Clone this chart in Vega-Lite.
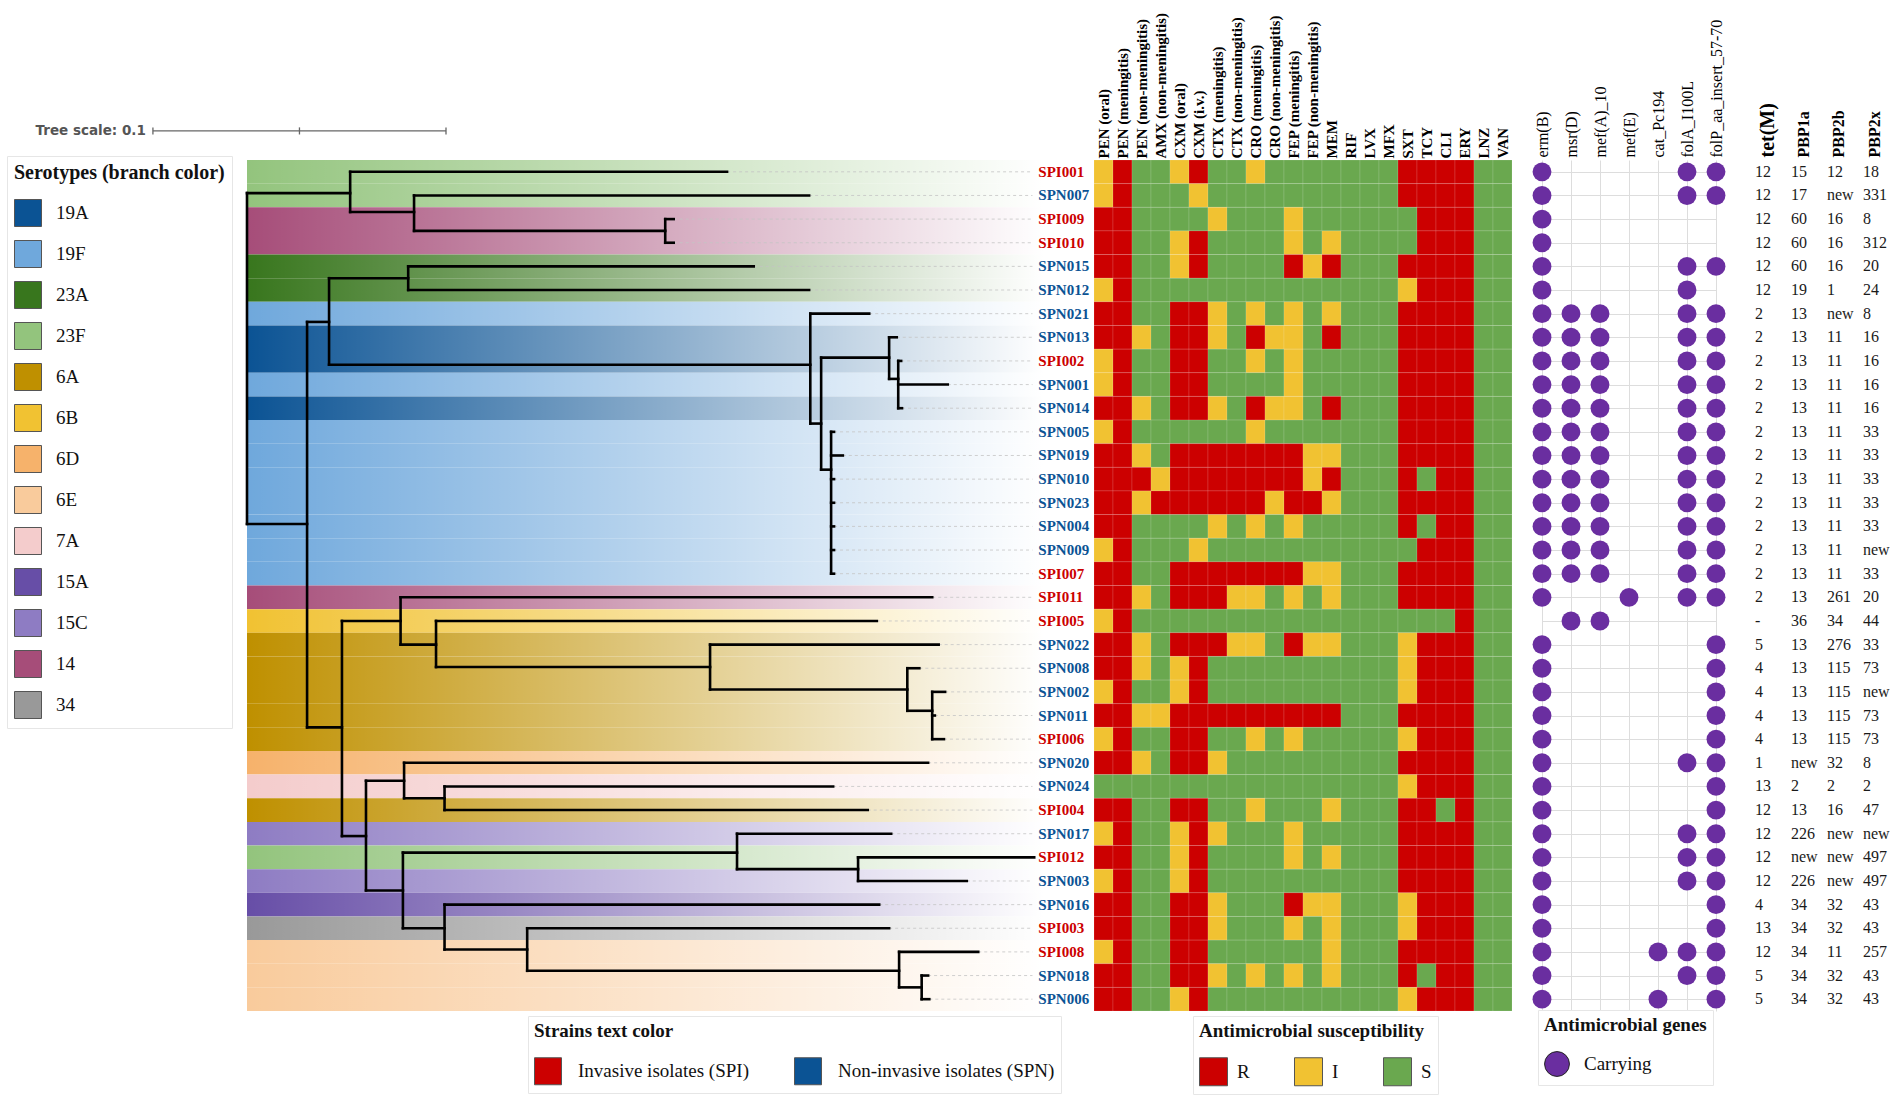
{
  "$schema": "https://vega.github.io/schema/vega-lite/v6.json",
  "background": "white",
  "padding": {"left": 6, "top": 12, "right": 2, "bottom": 2},
  "datasets": {
    "strains": [
      {"s":"SPI001","t":"Invasive isolates (SPI)","sero":"23F"},
      {"s":"SPN007","t":"Non-invasive isolates (SPN)","sero":"23F"},
      {"s":"SPI009","t":"Invasive isolates (SPI)","sero":"14"},
      {"s":"SPI010","t":"Invasive isolates (SPI)","sero":"14"},
      {"s":"SPN015","t":"Non-invasive isolates (SPN)","sero":"23A"},
      {"s":"SPN012","t":"Non-invasive isolates (SPN)","sero":"23A"},
      {"s":"SPN021","t":"Non-invasive isolates (SPN)","sero":"19F"},
      {"s":"SPN013","t":"Non-invasive isolates (SPN)","sero":"19A"},
      {"s":"SPI002","t":"Invasive isolates (SPI)","sero":"19A"},
      {"s":"SPN001","t":"Non-invasive isolates (SPN)","sero":"19F"},
      {"s":"SPN014","t":"Non-invasive isolates (SPN)","sero":"19A"},
      {"s":"SPN005","t":"Non-invasive isolates (SPN)","sero":"19F"},
      {"s":"SPN019","t":"Non-invasive isolates (SPN)","sero":"19F"},
      {"s":"SPN010","t":"Non-invasive isolates (SPN)","sero":"19F"},
      {"s":"SPN023","t":"Non-invasive isolates (SPN)","sero":"19F"},
      {"s":"SPN004","t":"Non-invasive isolates (SPN)","sero":"19F"},
      {"s":"SPN009","t":"Non-invasive isolates (SPN)","sero":"19F"},
      {"s":"SPI007","t":"Invasive isolates (SPI)","sero":"19F"},
      {"s":"SPI011","t":"Invasive isolates (SPI)","sero":"14"},
      {"s":"SPI005","t":"Invasive isolates (SPI)","sero":"6B"},
      {"s":"SPN022","t":"Non-invasive isolates (SPN)","sero":"6A"},
      {"s":"SPN008","t":"Non-invasive isolates (SPN)","sero":"6A"},
      {"s":"SPN002","t":"Non-invasive isolates (SPN)","sero":"6A"},
      {"s":"SPN011","t":"Non-invasive isolates (SPN)","sero":"6A"},
      {"s":"SPI006","t":"Invasive isolates (SPI)","sero":"6A"},
      {"s":"SPN020","t":"Non-invasive isolates (SPN)","sero":"6D"},
      {"s":"SPN024","t":"Non-invasive isolates (SPN)","sero":"7A"},
      {"s":"SPI004","t":"Invasive isolates (SPI)","sero":"6A"},
      {"s":"SPN017","t":"Non-invasive isolates (SPN)","sero":"15C"},
      {"s":"SPI012","t":"Invasive isolates (SPI)","sero":"23F"},
      {"s":"SPN003","t":"Non-invasive isolates (SPN)","sero":"15C"},
      {"s":"SPN016","t":"Non-invasive isolates (SPN)","sero":"15A"},
      {"s":"SPI003","t":"Invasive isolates (SPI)","sero":"34"},
      {"s":"SPI008","t":"Invasive isolates (SPI)","sero":"6E"},
      {"s":"SPN018","t":"Non-invasive isolates (SPN)","sero":"6E"},
      {"s":"SPN006","t":"Non-invasive isolates (SPN)","sero":"6E"}
    ],
    "tree": [
      {"x0":0,"x1":0,"y0":1.9,"y1":15.9},
      {"x0":0.0352,"x1":0.0352,"y0":1,"y1":2.7},
      {"x0":0.057,"x1":0.057,"y0":2,"y1":3.5},
      {"x0":0.1427,"x1":0.1427,"y0":3,"y1":4},
      {"x0":0.0205,"x1":0.0205,"y0":7.35,"y1":24.5},
      {"x0":0.028,"x1":0.028,"y0":5.5,"y1":9.16},
      {"x0":0.055,"x1":0.055,"y0":5,"y1":6},
      {"x0":0.1922,"x1":0.1922,"y0":7,"y1":11.65},
      {"x0":0.1959,"x1":0.1959,"y0":8.86,"y1":13.6},
      {"x0":0.2191,"x1":0.2191,"y0":8,"y1":9.76},
      {"x0":0.2222,"x1":0.2222,"y0":9,"y1":11},
      {"x0":0.1993,"x1":0.1993,"y0":12,"y1":18},
      {"x0":0.0324,"x1":0.0324,"y0":20,"y1":29.1},
      {"x0":0.0524,"x1":0.0524,"y0":19,"y1":21},
      {"x0":0.0645,"x1":0.0645,"y0":20,"y1":21.95},
      {"x0":0.158,"x1":0.158,"y0":21,"y1":22.9},
      {"x0":0.2253,"x1":0.2253,"y0":22,"y1":23.8},
      {"x0":0.2338,"x1":0.2338,"y0":23,"y1":25},
      {"x0":0.0406,"x1":0.0406,"y0":26.76,"y1":31.4},
      {"x0":0.0536,"x1":0.0536,"y0":26,"y1":27.5},
      {"x0":0.0674,"x1":0.0674,"y0":27,"y1":28},
      {"x0":0.0532,"x1":0.0532,"y0":29.8,"y1":33},
      {"x0":0.1672,"x1":0.1672,"y0":29,"y1":30.5},
      {"x0":0.2085,"x1":0.2085,"y0":30,"y1":31},
      {"x0":0.0674,"x1":0.0674,"y0":32,"y1":33.9},
      {"x0":0.0956,"x1":0.0956,"y0":33,"y1":34.8},
      {"x0":0.2225,"x1":0.2225,"y0":34,"y1":35.5},
      {"x0":0.2302,"x1":0.2302,"y0":35,"y1":36},
      {"x0":0,"x1":0.0352,"y0":1.9,"y1":1.9},
      {"x0":0.0352,"x1":0.057,"y0":2.7,"y1":2.7},
      {"x0":0.057,"x1":0.1427,"y0":3.5,"y1":3.5},
      {"x0":0,"x1":0.0205,"y0":15.9,"y1":15.9},
      {"x0":0.0205,"x1":0.028,"y0":7.35,"y1":7.35},
      {"x0":0.028,"x1":0.055,"y0":5.5,"y1":5.5},
      {"x0":0.028,"x1":0.1922,"y0":9.16,"y1":9.16},
      {"x0":0.1922,"x1":0.1959,"y0":11.65,"y1":11.65},
      {"x0":0.1959,"x1":0.2191,"y0":8.86,"y1":8.86},
      {"x0":0.2191,"x1":0.2222,"y0":9.76,"y1":9.76},
      {"x0":0.1959,"x1":0.1993,"y0":13.6,"y1":13.6},
      {"x0":0.0205,"x1":0.0324,"y0":24.5,"y1":24.5},
      {"x0":0.0324,"x1":0.0524,"y0":20,"y1":20},
      {"x0":0.0524,"x1":0.0645,"y0":21,"y1":21},
      {"x0":0.0645,"x1":0.158,"y0":21.95,"y1":21.95},
      {"x0":0.158,"x1":0.2253,"y0":22.9,"y1":22.9},
      {"x0":0.2253,"x1":0.2338,"y0":23.8,"y1":23.8},
      {"x0":0.0324,"x1":0.0406,"y0":29.1,"y1":29.1},
      {"x0":0.0406,"x1":0.0536,"y0":26.76,"y1":26.76},
      {"x0":0.0536,"x1":0.0674,"y0":27.5,"y1":27.5},
      {"x0":0.0406,"x1":0.0532,"y0":31.4,"y1":31.4},
      {"x0":0.0532,"x1":0.1672,"y0":29.8,"y1":29.8},
      {"x0":0.1672,"x1":0.2085,"y0":30.5,"y1":30.5},
      {"x0":0.0532,"x1":0.0674,"y0":33,"y1":33},
      {"x0":0.0674,"x1":0.0956,"y0":33.9,"y1":33.9},
      {"x0":0.0956,"x1":0.2225,"y0":34.8,"y1":34.8},
      {"x0":0.2225,"x1":0.2302,"y0":35.5,"y1":35.5},
      {"s":"SPI001","x0":0.0352,"x1":0.1638,"y0":1,"y1":1},
      {"s":"SPN007","x0":0.057,"x1":0.1918,"y0":2,"y1":2},
      {"s":"SPI009","x0":0.1427,"x1":0.1456,"y0":3,"y1":3},
      {"s":"SPI010","x0":0.1427,"x1":0.1456,"y0":4,"y1":4},
      {"s":"SPN015","x0":0.055,"x1":0.1729,"y0":5,"y1":5},
      {"s":"SPN012","x0":0.055,"x1":0.1918,"y0":6,"y1":6},
      {"s":"SPN021","x0":0.1922,"x1":0.2123,"y0":7,"y1":7},
      {"s":"SPN013","x0":0.2191,"x1":0.2217,"y0":8,"y1":8},
      {"s":"SPI002","x0":0.2222,"x1":0.2232,"y0":9,"y1":9},
      {"s":"SPN001","x0":0.2222,"x1":0.2391,"y0":10,"y1":10},
      {"s":"SPN014","x0":0.2222,"x1":0.2235,"y0":11,"y1":11},
      {"s":"SPN005","x0":0.1993,"x1":0.2003,"y0":12,"y1":12},
      {"s":"SPN019","x0":0.1993,"x1":0.2033,"y0":13,"y1":13},
      {"s":"SPN010","x0":0.1993,"x1":0.2003,"y0":14,"y1":14},
      {"s":"SPN023","x0":0.1993,"x1":0.2003,"y0":15,"y1":15},
      {"s":"SPN004","x0":0.1993,"x1":0.2003,"y0":16,"y1":16},
      {"s":"SPN009","x0":0.1993,"x1":0.2003,"y0":17,"y1":17},
      {"s":"SPI007","x0":0.1993,"x1":0.2003,"y0":18,"y1":18},
      {"s":"SPI011","x0":0.0524,"x1":0.2338,"y0":19,"y1":19},
      {"s":"SPI005","x0":0.0645,"x1":0.2149,"y0":20,"y1":20},
      {"s":"SPN022","x0":0.158,"x1":0.236,"y0":21,"y1":21},
      {"s":"SPN008","x0":0.2253,"x1":0.2294,"y0":22,"y1":22},
      {"s":"SPN002","x0":0.2338,"x1":0.2382,"y0":23,"y1":23},
      {"s":"SPN011","x0":0.2338,"x1":0.2347,"y0":24,"y1":24},
      {"s":"SPI006","x0":0.2338,"x1":0.2378,"y0":25,"y1":25},
      {"s":"SPN020","x0":0.0536,"x1":0.2324,"y0":26,"y1":26},
      {"s":"SPN024","x0":0.0674,"x1":0.2,"y0":27,"y1":27},
      {"s":"SPI004","x0":0.0674,"x1":0.2118,"y0":28,"y1":28},
      {"s":"SPN017","x0":0.1672,"x1":0.2198,"y0":29,"y1":29},
      {"s":"SPI012","x0":0.2085,"x1":0.2686,"y0":30,"y1":30},
      {"s":"SPN003","x0":0.2085,"x1":0.2456,"y0":31,"y1":31},
      {"s":"SPN016","x0":0.0674,"x1":0.2157,"y0":32,"y1":32},
      {"s":"SPI003","x0":0.0956,"x1":0.2191,"y0":33,"y1":33},
      {"s":"SPI008","x0":0.2225,"x1":0.2495,"y0":34,"y1":34},
      {"s":"SPN018","x0":0.2302,"x1":0.2324,"y0":35,"y1":35},
      {"s":"SPN006","x0":0.2302,"x1":0.2328,"y0":36,"y1":36}
    ],
    "scalebar": [{"x":-0.0321},{"x":0.0179},{"x":0.0679}],
    "ast": [
      {"s":"SPI001","d":"PEN (oral)","v":"I"},{"s":"SPI001","d":"PEN (meningitis)","v":"R"},{"s":"SPI001","d":"PEN (non-meningitis)","v":"S"},{"s":"SPI001","d":"AMX (non-meningitis)","v":"S"},{"s":"SPI001","d":"CXM (oral)","v":"I"},{"s":"SPI001","d":"CXM (i.v.)","v":"R"},{"s":"SPI001","d":"CTX (meningitis)","v":"S"},{"s":"SPI001","d":"CTX (non-meningitis)","v":"S"},{"s":"SPI001","d":"CRO (meningitis)","v":"I"},{"s":"SPI001","d":"CRO (non-meningitis)","v":"S"},{"s":"SPI001","d":"FEP (meningitis)","v":"S"},{"s":"SPI001","d":"FEP (non-meningitis)","v":"S"},{"s":"SPI001","d":"MEM","v":"S"},{"s":"SPI001","d":"RIF","v":"S"},{"s":"SPI001","d":"LVX","v":"S"},{"s":"SPI001","d":"MFX","v":"S"},{"s":"SPI001","d":"SXT","v":"R"},{"s":"SPI001","d":"TCY","v":"R"},{"s":"SPI001","d":"CLI","v":"R"},{"s":"SPI001","d":"ERY","v":"R"},{"s":"SPI001","d":"LNZ","v":"S"},{"s":"SPI001","d":"VAN","v":"S"},
      {"s":"SPN007","d":"PEN (oral)","v":"I"},{"s":"SPN007","d":"PEN (meningitis)","v":"R"},{"s":"SPN007","d":"PEN (non-meningitis)","v":"S"},{"s":"SPN007","d":"AMX (non-meningitis)","v":"S"},{"s":"SPN007","d":"CXM (oral)","v":"S"},{"s":"SPN007","d":"CXM (i.v.)","v":"I"},{"s":"SPN007","d":"CTX (meningitis)","v":"S"},{"s":"SPN007","d":"CTX (non-meningitis)","v":"S"},{"s":"SPN007","d":"CRO (meningitis)","v":"S"},{"s":"SPN007","d":"CRO (non-meningitis)","v":"S"},{"s":"SPN007","d":"FEP (meningitis)","v":"S"},{"s":"SPN007","d":"FEP (non-meningitis)","v":"S"},{"s":"SPN007","d":"MEM","v":"S"},{"s":"SPN007","d":"RIF","v":"S"},{"s":"SPN007","d":"LVX","v":"S"},{"s":"SPN007","d":"MFX","v":"S"},{"s":"SPN007","d":"SXT","v":"R"},{"s":"SPN007","d":"TCY","v":"R"},{"s":"SPN007","d":"CLI","v":"R"},{"s":"SPN007","d":"ERY","v":"R"},{"s":"SPN007","d":"LNZ","v":"S"},{"s":"SPN007","d":"VAN","v":"S"},
      {"s":"SPI009","d":"PEN (oral)","v":"R"},{"s":"SPI009","d":"PEN (meningitis)","v":"R"},{"s":"SPI009","d":"PEN (non-meningitis)","v":"S"},{"s":"SPI009","d":"AMX (non-meningitis)","v":"S"},{"s":"SPI009","d":"CXM (oral)","v":"S"},{"s":"SPI009","d":"CXM (i.v.)","v":"S"},{"s":"SPI009","d":"CTX (meningitis)","v":"I"},{"s":"SPI009","d":"CTX (non-meningitis)","v":"S"},{"s":"SPI009","d":"CRO (meningitis)","v":"S"},{"s":"SPI009","d":"CRO (non-meningitis)","v":"S"},{"s":"SPI009","d":"FEP (meningitis)","v":"I"},{"s":"SPI009","d":"FEP (non-meningitis)","v":"S"},{"s":"SPI009","d":"MEM","v":"S"},{"s":"SPI009","d":"RIF","v":"S"},{"s":"SPI009","d":"LVX","v":"S"},{"s":"SPI009","d":"MFX","v":"S"},{"s":"SPI009","d":"SXT","v":"S"},{"s":"SPI009","d":"TCY","v":"R"},{"s":"SPI009","d":"CLI","v":"R"},{"s":"SPI009","d":"ERY","v":"R"},{"s":"SPI009","d":"LNZ","v":"S"},{"s":"SPI009","d":"VAN","v":"S"},
      {"s":"SPI010","d":"PEN (oral)","v":"R"},{"s":"SPI010","d":"PEN (meningitis)","v":"R"},{"s":"SPI010","d":"PEN (non-meningitis)","v":"S"},{"s":"SPI010","d":"AMX (non-meningitis)","v":"S"},{"s":"SPI010","d":"CXM (oral)","v":"I"},{"s":"SPI010","d":"CXM (i.v.)","v":"R"},{"s":"SPI010","d":"CTX (meningitis)","v":"S"},{"s":"SPI010","d":"CTX (non-meningitis)","v":"S"},{"s":"SPI010","d":"CRO (meningitis)","v":"S"},{"s":"SPI010","d":"CRO (non-meningitis)","v":"S"},{"s":"SPI010","d":"FEP (meningitis)","v":"I"},{"s":"SPI010","d":"FEP (non-meningitis)","v":"S"},{"s":"SPI010","d":"MEM","v":"I"},{"s":"SPI010","d":"RIF","v":"S"},{"s":"SPI010","d":"LVX","v":"S"},{"s":"SPI010","d":"MFX","v":"S"},{"s":"SPI010","d":"SXT","v":"S"},{"s":"SPI010","d":"TCY","v":"R"},{"s":"SPI010","d":"CLI","v":"R"},{"s":"SPI010","d":"ERY","v":"R"},{"s":"SPI010","d":"LNZ","v":"S"},{"s":"SPI010","d":"VAN","v":"S"},
      {"s":"SPN015","d":"PEN (oral)","v":"R"},{"s":"SPN015","d":"PEN (meningitis)","v":"R"},{"s":"SPN015","d":"PEN (non-meningitis)","v":"S"},{"s":"SPN015","d":"AMX (non-meningitis)","v":"S"},{"s":"SPN015","d":"CXM (oral)","v":"I"},{"s":"SPN015","d":"CXM (i.v.)","v":"R"},{"s":"SPN015","d":"CTX (meningitis)","v":"S"},{"s":"SPN015","d":"CTX (non-meningitis)","v":"S"},{"s":"SPN015","d":"CRO (meningitis)","v":"S"},{"s":"SPN015","d":"CRO (non-meningitis)","v":"S"},{"s":"SPN015","d":"FEP (meningitis)","v":"R"},{"s":"SPN015","d":"FEP (non-meningitis)","v":"I"},{"s":"SPN015","d":"MEM","v":"R"},{"s":"SPN015","d":"RIF","v":"S"},{"s":"SPN015","d":"LVX","v":"S"},{"s":"SPN015","d":"MFX","v":"S"},{"s":"SPN015","d":"SXT","v":"R"},{"s":"SPN015","d":"TCY","v":"R"},{"s":"SPN015","d":"CLI","v":"R"},{"s":"SPN015","d":"ERY","v":"R"},{"s":"SPN015","d":"LNZ","v":"S"},{"s":"SPN015","d":"VAN","v":"S"},
      {"s":"SPN012","d":"PEN (oral)","v":"I"},{"s":"SPN012","d":"PEN (meningitis)","v":"R"},{"s":"SPN012","d":"PEN (non-meningitis)","v":"S"},{"s":"SPN012","d":"AMX (non-meningitis)","v":"S"},{"s":"SPN012","d":"CXM (oral)","v":"S"},{"s":"SPN012","d":"CXM (i.v.)","v":"S"},{"s":"SPN012","d":"CTX (meningitis)","v":"S"},{"s":"SPN012","d":"CTX (non-meningitis)","v":"S"},{"s":"SPN012","d":"CRO (meningitis)","v":"S"},{"s":"SPN012","d":"CRO (non-meningitis)","v":"S"},{"s":"SPN012","d":"FEP (meningitis)","v":"S"},{"s":"SPN012","d":"FEP (non-meningitis)","v":"S"},{"s":"SPN012","d":"MEM","v":"S"},{"s":"SPN012","d":"RIF","v":"S"},{"s":"SPN012","d":"LVX","v":"S"},{"s":"SPN012","d":"MFX","v":"S"},{"s":"SPN012","d":"SXT","v":"I"},{"s":"SPN012","d":"TCY","v":"R"},{"s":"SPN012","d":"CLI","v":"R"},{"s":"SPN012","d":"ERY","v":"R"},{"s":"SPN012","d":"LNZ","v":"S"},{"s":"SPN012","d":"VAN","v":"S"},
      {"s":"SPN021","d":"PEN (oral)","v":"R"},{"s":"SPN021","d":"PEN (meningitis)","v":"R"},{"s":"SPN021","d":"PEN (non-meningitis)","v":"S"},{"s":"SPN021","d":"AMX (non-meningitis)","v":"S"},{"s":"SPN021","d":"CXM (oral)","v":"R"},{"s":"SPN021","d":"CXM (i.v.)","v":"R"},{"s":"SPN021","d":"CTX (meningitis)","v":"I"},{"s":"SPN021","d":"CTX (non-meningitis)","v":"S"},{"s":"SPN021","d":"CRO (meningitis)","v":"I"},{"s":"SPN021","d":"CRO (non-meningitis)","v":"S"},{"s":"SPN021","d":"FEP (meningitis)","v":"I"},{"s":"SPN021","d":"FEP (non-meningitis)","v":"S"},{"s":"SPN021","d":"MEM","v":"I"},{"s":"SPN021","d":"RIF","v":"S"},{"s":"SPN021","d":"LVX","v":"S"},{"s":"SPN021","d":"MFX","v":"S"},{"s":"SPN021","d":"SXT","v":"R"},{"s":"SPN021","d":"TCY","v":"R"},{"s":"SPN021","d":"CLI","v":"R"},{"s":"SPN021","d":"ERY","v":"R"},{"s":"SPN021","d":"LNZ","v":"S"},{"s":"SPN021","d":"VAN","v":"S"},
      {"s":"SPN013","d":"PEN (oral)","v":"R"},{"s":"SPN013","d":"PEN (meningitis)","v":"R"},{"s":"SPN013","d":"PEN (non-meningitis)","v":"I"},{"s":"SPN013","d":"AMX (non-meningitis)","v":"S"},{"s":"SPN013","d":"CXM (oral)","v":"R"},{"s":"SPN013","d":"CXM (i.v.)","v":"R"},{"s":"SPN013","d":"CTX (meningitis)","v":"I"},{"s":"SPN013","d":"CTX (non-meningitis)","v":"S"},{"s":"SPN013","d":"CRO (meningitis)","v":"R"},{"s":"SPN013","d":"CRO (non-meningitis)","v":"I"},{"s":"SPN013","d":"FEP (meningitis)","v":"I"},{"s":"SPN013","d":"FEP (non-meningitis)","v":"S"},{"s":"SPN013","d":"MEM","v":"R"},{"s":"SPN013","d":"RIF","v":"S"},{"s":"SPN013","d":"LVX","v":"S"},{"s":"SPN013","d":"MFX","v":"S"},{"s":"SPN013","d":"SXT","v":"R"},{"s":"SPN013","d":"TCY","v":"R"},{"s":"SPN013","d":"CLI","v":"R"},{"s":"SPN013","d":"ERY","v":"R"},{"s":"SPN013","d":"LNZ","v":"S"},{"s":"SPN013","d":"VAN","v":"S"},
      {"s":"SPI002","d":"PEN (oral)","v":"I"},{"s":"SPI002","d":"PEN (meningitis)","v":"R"},{"s":"SPI002","d":"PEN (non-meningitis)","v":"S"},{"s":"SPI002","d":"AMX (non-meningitis)","v":"S"},{"s":"SPI002","d":"CXM (oral)","v":"R"},{"s":"SPI002","d":"CXM (i.v.)","v":"R"},{"s":"SPI002","d":"CTX (meningitis)","v":"S"},{"s":"SPI002","d":"CTX (non-meningitis)","v":"S"},{"s":"SPI002","d":"CRO (meningitis)","v":"I"},{"s":"SPI002","d":"CRO (non-meningitis)","v":"S"},{"s":"SPI002","d":"FEP (meningitis)","v":"I"},{"s":"SPI002","d":"FEP (non-meningitis)","v":"S"},{"s":"SPI002","d":"MEM","v":"S"},{"s":"SPI002","d":"RIF","v":"S"},{"s":"SPI002","d":"LVX","v":"S"},{"s":"SPI002","d":"MFX","v":"S"},{"s":"SPI002","d":"SXT","v":"R"},{"s":"SPI002","d":"TCY","v":"R"},{"s":"SPI002","d":"CLI","v":"R"},{"s":"SPI002","d":"ERY","v":"R"},{"s":"SPI002","d":"LNZ","v":"S"},{"s":"SPI002","d":"VAN","v":"S"},
      {"s":"SPN001","d":"PEN (oral)","v":"I"},{"s":"SPN001","d":"PEN (meningitis)","v":"R"},{"s":"SPN001","d":"PEN (non-meningitis)","v":"S"},{"s":"SPN001","d":"AMX (non-meningitis)","v":"S"},{"s":"SPN001","d":"CXM (oral)","v":"R"},{"s":"SPN001","d":"CXM (i.v.)","v":"R"},{"s":"SPN001","d":"CTX (meningitis)","v":"S"},{"s":"SPN001","d":"CTX (non-meningitis)","v":"S"},{"s":"SPN001","d":"CRO (meningitis)","v":"S"},{"s":"SPN001","d":"CRO (non-meningitis)","v":"S"},{"s":"SPN001","d":"FEP (meningitis)","v":"I"},{"s":"SPN001","d":"FEP (non-meningitis)","v":"S"},{"s":"SPN001","d":"MEM","v":"S"},{"s":"SPN001","d":"RIF","v":"S"},{"s":"SPN001","d":"LVX","v":"S"},{"s":"SPN001","d":"MFX","v":"S"},{"s":"SPN001","d":"SXT","v":"R"},{"s":"SPN001","d":"TCY","v":"R"},{"s":"SPN001","d":"CLI","v":"R"},{"s":"SPN001","d":"ERY","v":"R"},{"s":"SPN001","d":"LNZ","v":"S"},{"s":"SPN001","d":"VAN","v":"S"},
      {"s":"SPN014","d":"PEN (oral)","v":"R"},{"s":"SPN014","d":"PEN (meningitis)","v":"R"},{"s":"SPN014","d":"PEN (non-meningitis)","v":"I"},{"s":"SPN014","d":"AMX (non-meningitis)","v":"S"},{"s":"SPN014","d":"CXM (oral)","v":"R"},{"s":"SPN014","d":"CXM (i.v.)","v":"R"},{"s":"SPN014","d":"CTX (meningitis)","v":"I"},{"s":"SPN014","d":"CTX (non-meningitis)","v":"S"},{"s":"SPN014","d":"CRO (meningitis)","v":"R"},{"s":"SPN014","d":"CRO (non-meningitis)","v":"I"},{"s":"SPN014","d":"FEP (meningitis)","v":"I"},{"s":"SPN014","d":"FEP (non-meningitis)","v":"S"},{"s":"SPN014","d":"MEM","v":"R"},{"s":"SPN014","d":"RIF","v":"S"},{"s":"SPN014","d":"LVX","v":"S"},{"s":"SPN014","d":"MFX","v":"S"},{"s":"SPN014","d":"SXT","v":"R"},{"s":"SPN014","d":"TCY","v":"R"},{"s":"SPN014","d":"CLI","v":"R"},{"s":"SPN014","d":"ERY","v":"R"},{"s":"SPN014","d":"LNZ","v":"S"},{"s":"SPN014","d":"VAN","v":"S"},
      {"s":"SPN005","d":"PEN (oral)","v":"I"},{"s":"SPN005","d":"PEN (meningitis)","v":"R"},{"s":"SPN005","d":"PEN (non-meningitis)","v":"S"},{"s":"SPN005","d":"AMX (non-meningitis)","v":"S"},{"s":"SPN005","d":"CXM (oral)","v":"S"},{"s":"SPN005","d":"CXM (i.v.)","v":"S"},{"s":"SPN005","d":"CTX (meningitis)","v":"S"},{"s":"SPN005","d":"CTX (non-meningitis)","v":"S"},{"s":"SPN005","d":"CRO (meningitis)","v":"I"},{"s":"SPN005","d":"CRO (non-meningitis)","v":"S"},{"s":"SPN005","d":"FEP (meningitis)","v":"S"},{"s":"SPN005","d":"FEP (non-meningitis)","v":"S"},{"s":"SPN005","d":"MEM","v":"S"},{"s":"SPN005","d":"RIF","v":"S"},{"s":"SPN005","d":"LVX","v":"S"},{"s":"SPN005","d":"MFX","v":"S"},{"s":"SPN005","d":"SXT","v":"R"},{"s":"SPN005","d":"TCY","v":"R"},{"s":"SPN005","d":"CLI","v":"R"},{"s":"SPN005","d":"ERY","v":"R"},{"s":"SPN005","d":"LNZ","v":"S"},{"s":"SPN005","d":"VAN","v":"S"},
      {"s":"SPN019","d":"PEN (oral)","v":"R"},{"s":"SPN019","d":"PEN (meningitis)","v":"R"},{"s":"SPN019","d":"PEN (non-meningitis)","v":"I"},{"s":"SPN019","d":"AMX (non-meningitis)","v":"S"},{"s":"SPN019","d":"CXM (oral)","v":"R"},{"s":"SPN019","d":"CXM (i.v.)","v":"R"},{"s":"SPN019","d":"CTX (meningitis)","v":"R"},{"s":"SPN019","d":"CTX (non-meningitis)","v":"R"},{"s":"SPN019","d":"CRO (meningitis)","v":"R"},{"s":"SPN019","d":"CRO (non-meningitis)","v":"R"},{"s":"SPN019","d":"FEP (meningitis)","v":"R"},{"s":"SPN019","d":"FEP (non-meningitis)","v":"I"},{"s":"SPN019","d":"MEM","v":"I"},{"s":"SPN019","d":"RIF","v":"S"},{"s":"SPN019","d":"LVX","v":"S"},{"s":"SPN019","d":"MFX","v":"S"},{"s":"SPN019","d":"SXT","v":"R"},{"s":"SPN019","d":"TCY","v":"R"},{"s":"SPN019","d":"CLI","v":"R"},{"s":"SPN019","d":"ERY","v":"R"},{"s":"SPN019","d":"LNZ","v":"S"},{"s":"SPN019","d":"VAN","v":"S"},
      {"s":"SPN010","d":"PEN (oral)","v":"R"},{"s":"SPN010","d":"PEN (meningitis)","v":"R"},{"s":"SPN010","d":"PEN (non-meningitis)","v":"R"},{"s":"SPN010","d":"AMX (non-meningitis)","v":"I"},{"s":"SPN010","d":"CXM (oral)","v":"R"},{"s":"SPN010","d":"CXM (i.v.)","v":"R"},{"s":"SPN010","d":"CTX (meningitis)","v":"R"},{"s":"SPN010","d":"CTX (non-meningitis)","v":"R"},{"s":"SPN010","d":"CRO (meningitis)","v":"R"},{"s":"SPN010","d":"CRO (non-meningitis)","v":"R"},{"s":"SPN010","d":"FEP (meningitis)","v":"R"},{"s":"SPN010","d":"FEP (non-meningitis)","v":"I"},{"s":"SPN010","d":"MEM","v":"R"},{"s":"SPN010","d":"RIF","v":"S"},{"s":"SPN010","d":"LVX","v":"S"},{"s":"SPN010","d":"MFX","v":"S"},{"s":"SPN010","d":"SXT","v":"R"},{"s":"SPN010","d":"TCY","v":"S"},{"s":"SPN010","d":"CLI","v":"R"},{"s":"SPN010","d":"ERY","v":"R"},{"s":"SPN010","d":"LNZ","v":"S"},{"s":"SPN010","d":"VAN","v":"S"},
      {"s":"SPN023","d":"PEN (oral)","v":"R"},{"s":"SPN023","d":"PEN (meningitis)","v":"R"},{"s":"SPN023","d":"PEN (non-meningitis)","v":"I"},{"s":"SPN023","d":"AMX (non-meningitis)","v":"R"},{"s":"SPN023","d":"CXM (oral)","v":"R"},{"s":"SPN023","d":"CXM (i.v.)","v":"R"},{"s":"SPN023","d":"CTX (meningitis)","v":"R"},{"s":"SPN023","d":"CTX (non-meningitis)","v":"R"},{"s":"SPN023","d":"CRO (meningitis)","v":"R"},{"s":"SPN023","d":"CRO (non-meningitis)","v":"I"},{"s":"SPN023","d":"FEP (meningitis)","v":"R"},{"s":"SPN023","d":"FEP (non-meningitis)","v":"R"},{"s":"SPN023","d":"MEM","v":"I"},{"s":"SPN023","d":"RIF","v":"S"},{"s":"SPN023","d":"LVX","v":"S"},{"s":"SPN023","d":"MFX","v":"S"},{"s":"SPN023","d":"SXT","v":"R"},{"s":"SPN023","d":"TCY","v":"R"},{"s":"SPN023","d":"CLI","v":"R"},{"s":"SPN023","d":"ERY","v":"R"},{"s":"SPN023","d":"LNZ","v":"S"},{"s":"SPN023","d":"VAN","v":"S"},
      {"s":"SPN004","d":"PEN (oral)","v":"R"},{"s":"SPN004","d":"PEN (meningitis)","v":"R"},{"s":"SPN004","d":"PEN (non-meningitis)","v":"S"},{"s":"SPN004","d":"AMX (non-meningitis)","v":"S"},{"s":"SPN004","d":"CXM (oral)","v":"S"},{"s":"SPN004","d":"CXM (i.v.)","v":"S"},{"s":"SPN004","d":"CTX (meningitis)","v":"I"},{"s":"SPN004","d":"CTX (non-meningitis)","v":"S"},{"s":"SPN004","d":"CRO (meningitis)","v":"I"},{"s":"SPN004","d":"CRO (non-meningitis)","v":"S"},{"s":"SPN004","d":"FEP (meningitis)","v":"I"},{"s":"SPN004","d":"FEP (non-meningitis)","v":"S"},{"s":"SPN004","d":"MEM","v":"S"},{"s":"SPN004","d":"RIF","v":"S"},{"s":"SPN004","d":"LVX","v":"S"},{"s":"SPN004","d":"MFX","v":"S"},{"s":"SPN004","d":"SXT","v":"R"},{"s":"SPN004","d":"TCY","v":"S"},{"s":"SPN004","d":"CLI","v":"R"},{"s":"SPN004","d":"ERY","v":"R"},{"s":"SPN004","d":"LNZ","v":"S"},{"s":"SPN004","d":"VAN","v":"S"},
      {"s":"SPN009","d":"PEN (oral)","v":"I"},{"s":"SPN009","d":"PEN (meningitis)","v":"R"},{"s":"SPN009","d":"PEN (non-meningitis)","v":"S"},{"s":"SPN009","d":"AMX (non-meningitis)","v":"S"},{"s":"SPN009","d":"CXM (oral)","v":"S"},{"s":"SPN009","d":"CXM (i.v.)","v":"I"},{"s":"SPN009","d":"CTX (meningitis)","v":"S"},{"s":"SPN009","d":"CTX (non-meningitis)","v":"S"},{"s":"SPN009","d":"CRO (meningitis)","v":"S"},{"s":"SPN009","d":"CRO (non-meningitis)","v":"S"},{"s":"SPN009","d":"FEP (meningitis)","v":"S"},{"s":"SPN009","d":"FEP (non-meningitis)","v":"S"},{"s":"SPN009","d":"MEM","v":"S"},{"s":"SPN009","d":"RIF","v":"S"},{"s":"SPN009","d":"LVX","v":"S"},{"s":"SPN009","d":"MFX","v":"S"},{"s":"SPN009","d":"SXT","v":"S"},{"s":"SPN009","d":"TCY","v":"R"},{"s":"SPN009","d":"CLI","v":"R"},{"s":"SPN009","d":"ERY","v":"R"},{"s":"SPN009","d":"LNZ","v":"S"},{"s":"SPN009","d":"VAN","v":"S"},
      {"s":"SPI007","d":"PEN (oral)","v":"R"},{"s":"SPI007","d":"PEN (meningitis)","v":"R"},{"s":"SPI007","d":"PEN (non-meningitis)","v":"S"},{"s":"SPI007","d":"AMX (non-meningitis)","v":"S"},{"s":"SPI007","d":"CXM (oral)","v":"R"},{"s":"SPI007","d":"CXM (i.v.)","v":"R"},{"s":"SPI007","d":"CTX (meningitis)","v":"R"},{"s":"SPI007","d":"CTX (non-meningitis)","v":"R"},{"s":"SPI007","d":"CRO (meningitis)","v":"R"},{"s":"SPI007","d":"CRO (non-meningitis)","v":"R"},{"s":"SPI007","d":"FEP (meningitis)","v":"R"},{"s":"SPI007","d":"FEP (non-meningitis)","v":"I"},{"s":"SPI007","d":"MEM","v":"I"},{"s":"SPI007","d":"RIF","v":"S"},{"s":"SPI007","d":"LVX","v":"S"},{"s":"SPI007","d":"MFX","v":"S"},{"s":"SPI007","d":"SXT","v":"R"},{"s":"SPI007","d":"TCY","v":"R"},{"s":"SPI007","d":"CLI","v":"R"},{"s":"SPI007","d":"ERY","v":"R"},{"s":"SPI007","d":"LNZ","v":"S"},{"s":"SPI007","d":"VAN","v":"S"},
      {"s":"SPI011","d":"PEN (oral)","v":"R"},{"s":"SPI011","d":"PEN (meningitis)","v":"R"},{"s":"SPI011","d":"PEN (non-meningitis)","v":"I"},{"s":"SPI011","d":"AMX (non-meningitis)","v":"S"},{"s":"SPI011","d":"CXM (oral)","v":"R"},{"s":"SPI011","d":"CXM (i.v.)","v":"R"},{"s":"SPI011","d":"CTX (meningitis)","v":"R"},{"s":"SPI011","d":"CTX (non-meningitis)","v":"I"},{"s":"SPI011","d":"CRO (meningitis)","v":"I"},{"s":"SPI011","d":"CRO (non-meningitis)","v":"S"},{"s":"SPI011","d":"FEP (meningitis)","v":"I"},{"s":"SPI011","d":"FEP (non-meningitis)","v":"S"},{"s":"SPI011","d":"MEM","v":"I"},{"s":"SPI011","d":"RIF","v":"S"},{"s":"SPI011","d":"LVX","v":"S"},{"s":"SPI011","d":"MFX","v":"S"},{"s":"SPI011","d":"SXT","v":"R"},{"s":"SPI011","d":"TCY","v":"R"},{"s":"SPI011","d":"CLI","v":"R"},{"s":"SPI011","d":"ERY","v":"R"},{"s":"SPI011","d":"LNZ","v":"S"},{"s":"SPI011","d":"VAN","v":"S"},
      {"s":"SPI005","d":"PEN (oral)","v":"I"},{"s":"SPI005","d":"PEN (meningitis)","v":"R"},{"s":"SPI005","d":"PEN (non-meningitis)","v":"S"},{"s":"SPI005","d":"AMX (non-meningitis)","v":"S"},{"s":"SPI005","d":"CXM (oral)","v":"S"},{"s":"SPI005","d":"CXM (i.v.)","v":"S"},{"s":"SPI005","d":"CTX (meningitis)","v":"S"},{"s":"SPI005","d":"CTX (non-meningitis)","v":"S"},{"s":"SPI005","d":"CRO (meningitis)","v":"S"},{"s":"SPI005","d":"CRO (non-meningitis)","v":"S"},{"s":"SPI005","d":"FEP (meningitis)","v":"S"},{"s":"SPI005","d":"FEP (non-meningitis)","v":"S"},{"s":"SPI005","d":"MEM","v":"S"},{"s":"SPI005","d":"RIF","v":"S"},{"s":"SPI005","d":"LVX","v":"S"},{"s":"SPI005","d":"MFX","v":"S"},{"s":"SPI005","d":"SXT","v":"S"},{"s":"SPI005","d":"TCY","v":"S"},{"s":"SPI005","d":"CLI","v":"S"},{"s":"SPI005","d":"ERY","v":"R"},{"s":"SPI005","d":"LNZ","v":"S"},{"s":"SPI005","d":"VAN","v":"S"},
      {"s":"SPN022","d":"PEN (oral)","v":"R"},{"s":"SPN022","d":"PEN (meningitis)","v":"R"},{"s":"SPN022","d":"PEN (non-meningitis)","v":"I"},{"s":"SPN022","d":"AMX (non-meningitis)","v":"S"},{"s":"SPN022","d":"CXM (oral)","v":"R"},{"s":"SPN022","d":"CXM (i.v.)","v":"R"},{"s":"SPN022","d":"CTX (meningitis)","v":"R"},{"s":"SPN022","d":"CTX (non-meningitis)","v":"I"},{"s":"SPN022","d":"CRO (meningitis)","v":"I"},{"s":"SPN022","d":"CRO (non-meningitis)","v":"S"},{"s":"SPN022","d":"FEP (meningitis)","v":"R"},{"s":"SPN022","d":"FEP (non-meningitis)","v":"I"},{"s":"SPN022","d":"MEM","v":"I"},{"s":"SPN022","d":"RIF","v":"S"},{"s":"SPN022","d":"LVX","v":"S"},{"s":"SPN022","d":"MFX","v":"S"},{"s":"SPN022","d":"SXT","v":"I"},{"s":"SPN022","d":"TCY","v":"R"},{"s":"SPN022","d":"CLI","v":"R"},{"s":"SPN022","d":"ERY","v":"R"},{"s":"SPN022","d":"LNZ","v":"S"},{"s":"SPN022","d":"VAN","v":"S"},
      {"s":"SPN008","d":"PEN (oral)","v":"R"},{"s":"SPN008","d":"PEN (meningitis)","v":"R"},{"s":"SPN008","d":"PEN (non-meningitis)","v":"I"},{"s":"SPN008","d":"AMX (non-meningitis)","v":"S"},{"s":"SPN008","d":"CXM (oral)","v":"I"},{"s":"SPN008","d":"CXM (i.v.)","v":"R"},{"s":"SPN008","d":"CTX (meningitis)","v":"S"},{"s":"SPN008","d":"CTX (non-meningitis)","v":"S"},{"s":"SPN008","d":"CRO (meningitis)","v":"S"},{"s":"SPN008","d":"CRO (non-meningitis)","v":"S"},{"s":"SPN008","d":"FEP (meningitis)","v":"S"},{"s":"SPN008","d":"FEP (non-meningitis)","v":"S"},{"s":"SPN008","d":"MEM","v":"S"},{"s":"SPN008","d":"RIF","v":"S"},{"s":"SPN008","d":"LVX","v":"S"},{"s":"SPN008","d":"MFX","v":"S"},{"s":"SPN008","d":"SXT","v":"I"},{"s":"SPN008","d":"TCY","v":"R"},{"s":"SPN008","d":"CLI","v":"R"},{"s":"SPN008","d":"ERY","v":"R"},{"s":"SPN008","d":"LNZ","v":"S"},{"s":"SPN008","d":"VAN","v":"S"},
      {"s":"SPN002","d":"PEN (oral)","v":"I"},{"s":"SPN002","d":"PEN (meningitis)","v":"R"},{"s":"SPN002","d":"PEN (non-meningitis)","v":"S"},{"s":"SPN002","d":"AMX (non-meningitis)","v":"S"},{"s":"SPN002","d":"CXM (oral)","v":"I"},{"s":"SPN002","d":"CXM (i.v.)","v":"R"},{"s":"SPN002","d":"CTX (meningitis)","v":"S"},{"s":"SPN002","d":"CTX (non-meningitis)","v":"S"},{"s":"SPN002","d":"CRO (meningitis)","v":"S"},{"s":"SPN002","d":"CRO (non-meningitis)","v":"S"},{"s":"SPN002","d":"FEP (meningitis)","v":"S"},{"s":"SPN002","d":"FEP (non-meningitis)","v":"S"},{"s":"SPN002","d":"MEM","v":"S"},{"s":"SPN002","d":"RIF","v":"S"},{"s":"SPN002","d":"LVX","v":"S"},{"s":"SPN002","d":"MFX","v":"S"},{"s":"SPN002","d":"SXT","v":"I"},{"s":"SPN002","d":"TCY","v":"R"},{"s":"SPN002","d":"CLI","v":"R"},{"s":"SPN002","d":"ERY","v":"R"},{"s":"SPN002","d":"LNZ","v":"S"},{"s":"SPN002","d":"VAN","v":"S"},
      {"s":"SPN011","d":"PEN (oral)","v":"R"},{"s":"SPN011","d":"PEN (meningitis)","v":"R"},{"s":"SPN011","d":"PEN (non-meningitis)","v":"I"},{"s":"SPN011","d":"AMX (non-meningitis)","v":"I"},{"s":"SPN011","d":"CXM (oral)","v":"R"},{"s":"SPN011","d":"CXM (i.v.)","v":"R"},{"s":"SPN011","d":"CTX (meningitis)","v":"R"},{"s":"SPN011","d":"CTX (non-meningitis)","v":"R"},{"s":"SPN011","d":"CRO (meningitis)","v":"R"},{"s":"SPN011","d":"CRO (non-meningitis)","v":"R"},{"s":"SPN011","d":"FEP (meningitis)","v":"R"},{"s":"SPN011","d":"FEP (non-meningitis)","v":"R"},{"s":"SPN011","d":"MEM","v":"R"},{"s":"SPN011","d":"RIF","v":"S"},{"s":"SPN011","d":"LVX","v":"S"},{"s":"SPN011","d":"MFX","v":"S"},{"s":"SPN011","d":"SXT","v":"R"},{"s":"SPN011","d":"TCY","v":"R"},{"s":"SPN011","d":"CLI","v":"R"},{"s":"SPN011","d":"ERY","v":"R"},{"s":"SPN011","d":"LNZ","v":"S"},{"s":"SPN011","d":"VAN","v":"S"},
      {"s":"SPI006","d":"PEN (oral)","v":"I"},{"s":"SPI006","d":"PEN (meningitis)","v":"R"},{"s":"SPI006","d":"PEN (non-meningitis)","v":"S"},{"s":"SPI006","d":"AMX (non-meningitis)","v":"S"},{"s":"SPI006","d":"CXM (oral)","v":"R"},{"s":"SPI006","d":"CXM (i.v.)","v":"R"},{"s":"SPI006","d":"CTX (meningitis)","v":"S"},{"s":"SPI006","d":"CTX (non-meningitis)","v":"S"},{"s":"SPI006","d":"CRO (meningitis)","v":"I"},{"s":"SPI006","d":"CRO (non-meningitis)","v":"S"},{"s":"SPI006","d":"FEP (meningitis)","v":"I"},{"s":"SPI006","d":"FEP (non-meningitis)","v":"S"},{"s":"SPI006","d":"MEM","v":"S"},{"s":"SPI006","d":"RIF","v":"S"},{"s":"SPI006","d":"LVX","v":"S"},{"s":"SPI006","d":"MFX","v":"S"},{"s":"SPI006","d":"SXT","v":"I"},{"s":"SPI006","d":"TCY","v":"R"},{"s":"SPI006","d":"CLI","v":"R"},{"s":"SPI006","d":"ERY","v":"R"},{"s":"SPI006","d":"LNZ","v":"S"},{"s":"SPI006","d":"VAN","v":"S"},
      {"s":"SPN020","d":"PEN (oral)","v":"R"},{"s":"SPN020","d":"PEN (meningitis)","v":"R"},{"s":"SPN020","d":"PEN (non-meningitis)","v":"I"},{"s":"SPN020","d":"AMX (non-meningitis)","v":"S"},{"s":"SPN020","d":"CXM (oral)","v":"R"},{"s":"SPN020","d":"CXM (i.v.)","v":"R"},{"s":"SPN020","d":"CTX (meningitis)","v":"I"},{"s":"SPN020","d":"CTX (non-meningitis)","v":"S"},{"s":"SPN020","d":"CRO (meningitis)","v":"S"},{"s":"SPN020","d":"CRO (non-meningitis)","v":"S"},{"s":"SPN020","d":"FEP (meningitis)","v":"S"},{"s":"SPN020","d":"FEP (non-meningitis)","v":"S"},{"s":"SPN020","d":"MEM","v":"S"},{"s":"SPN020","d":"RIF","v":"S"},{"s":"SPN020","d":"LVX","v":"S"},{"s":"SPN020","d":"MFX","v":"S"},{"s":"SPN020","d":"SXT","v":"R"},{"s":"SPN020","d":"TCY","v":"R"},{"s":"SPN020","d":"CLI","v":"R"},{"s":"SPN020","d":"ERY","v":"R"},{"s":"SPN020","d":"LNZ","v":"S"},{"s":"SPN020","d":"VAN","v":"S"},
      {"s":"SPN024","d":"PEN (oral)","v":"S"},{"s":"SPN024","d":"PEN (meningitis)","v":"S"},{"s":"SPN024","d":"PEN (non-meningitis)","v":"S"},{"s":"SPN024","d":"AMX (non-meningitis)","v":"S"},{"s":"SPN024","d":"CXM (oral)","v":"S"},{"s":"SPN024","d":"CXM (i.v.)","v":"S"},{"s":"SPN024","d":"CTX (meningitis)","v":"S"},{"s":"SPN024","d":"CTX (non-meningitis)","v":"S"},{"s":"SPN024","d":"CRO (meningitis)","v":"S"},{"s":"SPN024","d":"CRO (non-meningitis)","v":"S"},{"s":"SPN024","d":"FEP (meningitis)","v":"S"},{"s":"SPN024","d":"FEP (non-meningitis)","v":"S"},{"s":"SPN024","d":"MEM","v":"S"},{"s":"SPN024","d":"RIF","v":"S"},{"s":"SPN024","d":"LVX","v":"S"},{"s":"SPN024","d":"MFX","v":"S"},{"s":"SPN024","d":"SXT","v":"I"},{"s":"SPN024","d":"TCY","v":"R"},{"s":"SPN024","d":"CLI","v":"R"},{"s":"SPN024","d":"ERY","v":"R"},{"s":"SPN024","d":"LNZ","v":"S"},{"s":"SPN024","d":"VAN","v":"S"},
      {"s":"SPI004","d":"PEN (oral)","v":"R"},{"s":"SPI004","d":"PEN (meningitis)","v":"R"},{"s":"SPI004","d":"PEN (non-meningitis)","v":"S"},{"s":"SPI004","d":"AMX (non-meningitis)","v":"S"},{"s":"SPI004","d":"CXM (oral)","v":"R"},{"s":"SPI004","d":"CXM (i.v.)","v":"R"},{"s":"SPI004","d":"CTX (meningitis)","v":"S"},{"s":"SPI004","d":"CTX (non-meningitis)","v":"S"},{"s":"SPI004","d":"CRO (meningitis)","v":"I"},{"s":"SPI004","d":"CRO (non-meningitis)","v":"S"},{"s":"SPI004","d":"FEP (meningitis)","v":"S"},{"s":"SPI004","d":"FEP (non-meningitis)","v":"S"},{"s":"SPI004","d":"MEM","v":"I"},{"s":"SPI004","d":"RIF","v":"S"},{"s":"SPI004","d":"LVX","v":"S"},{"s":"SPI004","d":"MFX","v":"S"},{"s":"SPI004","d":"SXT","v":"R"},{"s":"SPI004","d":"TCY","v":"R"},{"s":"SPI004","d":"CLI","v":"S"},{"s":"SPI004","d":"ERY","v":"R"},{"s":"SPI004","d":"LNZ","v":"S"},{"s":"SPI004","d":"VAN","v":"S"},
      {"s":"SPN017","d":"PEN (oral)","v":"I"},{"s":"SPN017","d":"PEN (meningitis)","v":"R"},{"s":"SPN017","d":"PEN (non-meningitis)","v":"S"},{"s":"SPN017","d":"AMX (non-meningitis)","v":"S"},{"s":"SPN017","d":"CXM (oral)","v":"I"},{"s":"SPN017","d":"CXM (i.v.)","v":"R"},{"s":"SPN017","d":"CTX (meningitis)","v":"I"},{"s":"SPN017","d":"CTX (non-meningitis)","v":"S"},{"s":"SPN017","d":"CRO (meningitis)","v":"S"},{"s":"SPN017","d":"CRO (non-meningitis)","v":"S"},{"s":"SPN017","d":"FEP (meningitis)","v":"I"},{"s":"SPN017","d":"FEP (non-meningitis)","v":"S"},{"s":"SPN017","d":"MEM","v":"S"},{"s":"SPN017","d":"RIF","v":"S"},{"s":"SPN017","d":"LVX","v":"S"},{"s":"SPN017","d":"MFX","v":"S"},{"s":"SPN017","d":"SXT","v":"R"},{"s":"SPN017","d":"TCY","v":"R"},{"s":"SPN017","d":"CLI","v":"R"},{"s":"SPN017","d":"ERY","v":"R"},{"s":"SPN017","d":"LNZ","v":"S"},{"s":"SPN017","d":"VAN","v":"S"},
      {"s":"SPI012","d":"PEN (oral)","v":"R"},{"s":"SPI012","d":"PEN (meningitis)","v":"R"},{"s":"SPI012","d":"PEN (non-meningitis)","v":"S"},{"s":"SPI012","d":"AMX (non-meningitis)","v":"S"},{"s":"SPI012","d":"CXM (oral)","v":"I"},{"s":"SPI012","d":"CXM (i.v.)","v":"R"},{"s":"SPI012","d":"CTX (meningitis)","v":"S"},{"s":"SPI012","d":"CTX (non-meningitis)","v":"S"},{"s":"SPI012","d":"CRO (meningitis)","v":"S"},{"s":"SPI012","d":"CRO (non-meningitis)","v":"S"},{"s":"SPI012","d":"FEP (meningitis)","v":"I"},{"s":"SPI012","d":"FEP (non-meningitis)","v":"S"},{"s":"SPI012","d":"MEM","v":"I"},{"s":"SPI012","d":"RIF","v":"S"},{"s":"SPI012","d":"LVX","v":"S"},{"s":"SPI012","d":"MFX","v":"S"},{"s":"SPI012","d":"SXT","v":"R"},{"s":"SPI012","d":"TCY","v":"R"},{"s":"SPI012","d":"CLI","v":"R"},{"s":"SPI012","d":"ERY","v":"R"},{"s":"SPI012","d":"LNZ","v":"S"},{"s":"SPI012","d":"VAN","v":"S"},
      {"s":"SPN003","d":"PEN (oral)","v":"I"},{"s":"SPN003","d":"PEN (meningitis)","v":"R"},{"s":"SPN003","d":"PEN (non-meningitis)","v":"S"},{"s":"SPN003","d":"AMX (non-meningitis)","v":"S"},{"s":"SPN003","d":"CXM (oral)","v":"I"},{"s":"SPN003","d":"CXM (i.v.)","v":"R"},{"s":"SPN003","d":"CTX (meningitis)","v":"S"},{"s":"SPN003","d":"CTX (non-meningitis)","v":"S"},{"s":"SPN003","d":"CRO (meningitis)","v":"S"},{"s":"SPN003","d":"CRO (non-meningitis)","v":"S"},{"s":"SPN003","d":"FEP (meningitis)","v":"S"},{"s":"SPN003","d":"FEP (non-meningitis)","v":"S"},{"s":"SPN003","d":"MEM","v":"S"},{"s":"SPN003","d":"RIF","v":"S"},{"s":"SPN003","d":"LVX","v":"S"},{"s":"SPN003","d":"MFX","v":"S"},{"s":"SPN003","d":"SXT","v":"R"},{"s":"SPN003","d":"TCY","v":"R"},{"s":"SPN003","d":"CLI","v":"R"},{"s":"SPN003","d":"ERY","v":"R"},{"s":"SPN003","d":"LNZ","v":"S"},{"s":"SPN003","d":"VAN","v":"S"},
      {"s":"SPN016","d":"PEN (oral)","v":"R"},{"s":"SPN016","d":"PEN (meningitis)","v":"R"},{"s":"SPN016","d":"PEN (non-meningitis)","v":"S"},{"s":"SPN016","d":"AMX (non-meningitis)","v":"S"},{"s":"SPN016","d":"CXM (oral)","v":"R"},{"s":"SPN016","d":"CXM (i.v.)","v":"R"},{"s":"SPN016","d":"CTX (meningitis)","v":"I"},{"s":"SPN016","d":"CTX (non-meningitis)","v":"S"},{"s":"SPN016","d":"CRO (meningitis)","v":"S"},{"s":"SPN016","d":"CRO (non-meningitis)","v":"S"},{"s":"SPN016","d":"FEP (meningitis)","v":"R"},{"s":"SPN016","d":"FEP (non-meningitis)","v":"I"},{"s":"SPN016","d":"MEM","v":"I"},{"s":"SPN016","d":"RIF","v":"S"},{"s":"SPN016","d":"LVX","v":"S"},{"s":"SPN016","d":"MFX","v":"S"},{"s":"SPN016","d":"SXT","v":"I"},{"s":"SPN016","d":"TCY","v":"R"},{"s":"SPN016","d":"CLI","v":"R"},{"s":"SPN016","d":"ERY","v":"R"},{"s":"SPN016","d":"LNZ","v":"S"},{"s":"SPN016","d":"VAN","v":"S"},
      {"s":"SPI003","d":"PEN (oral)","v":"R"},{"s":"SPI003","d":"PEN (meningitis)","v":"R"},{"s":"SPI003","d":"PEN (non-meningitis)","v":"S"},{"s":"SPI003","d":"AMX (non-meningitis)","v":"S"},{"s":"SPI003","d":"CXM (oral)","v":"R"},{"s":"SPI003","d":"CXM (i.v.)","v":"R"},{"s":"SPI003","d":"CTX (meningitis)","v":"I"},{"s":"SPI003","d":"CTX (non-meningitis)","v":"S"},{"s":"SPI003","d":"CRO (meningitis)","v":"S"},{"s":"SPI003","d":"CRO (non-meningitis)","v":"S"},{"s":"SPI003","d":"FEP (meningitis)","v":"I"},{"s":"SPI003","d":"FEP (non-meningitis)","v":"S"},{"s":"SPI003","d":"MEM","v":"I"},{"s":"SPI003","d":"RIF","v":"S"},{"s":"SPI003","d":"LVX","v":"S"},{"s":"SPI003","d":"MFX","v":"S"},{"s":"SPI003","d":"SXT","v":"I"},{"s":"SPI003","d":"TCY","v":"R"},{"s":"SPI003","d":"CLI","v":"R"},{"s":"SPI003","d":"ERY","v":"R"},{"s":"SPI003","d":"LNZ","v":"S"},{"s":"SPI003","d":"VAN","v":"S"},
      {"s":"SPI008","d":"PEN (oral)","v":"I"},{"s":"SPI008","d":"PEN (meningitis)","v":"R"},{"s":"SPI008","d":"PEN (non-meningitis)","v":"S"},{"s":"SPI008","d":"AMX (non-meningitis)","v":"S"},{"s":"SPI008","d":"CXM (oral)","v":"R"},{"s":"SPI008","d":"CXM (i.v.)","v":"R"},{"s":"SPI008","d":"CTX (meningitis)","v":"S"},{"s":"SPI008","d":"CTX (non-meningitis)","v":"S"},{"s":"SPI008","d":"CRO (meningitis)","v":"S"},{"s":"SPI008","d":"CRO (non-meningitis)","v":"S"},{"s":"SPI008","d":"FEP (meningitis)","v":"S"},{"s":"SPI008","d":"FEP (non-meningitis)","v":"S"},{"s":"SPI008","d":"MEM","v":"I"},{"s":"SPI008","d":"RIF","v":"S"},{"s":"SPI008","d":"LVX","v":"S"},{"s":"SPI008","d":"MFX","v":"S"},{"s":"SPI008","d":"SXT","v":"R"},{"s":"SPI008","d":"TCY","v":"R"},{"s":"SPI008","d":"CLI","v":"R"},{"s":"SPI008","d":"ERY","v":"R"},{"s":"SPI008","d":"LNZ","v":"S"},{"s":"SPI008","d":"VAN","v":"S"},
      {"s":"SPN018","d":"PEN (oral)","v":"R"},{"s":"SPN018","d":"PEN (meningitis)","v":"R"},{"s":"SPN018","d":"PEN (non-meningitis)","v":"S"},{"s":"SPN018","d":"AMX (non-meningitis)","v":"S"},{"s":"SPN018","d":"CXM (oral)","v":"R"},{"s":"SPN018","d":"CXM (i.v.)","v":"R"},{"s":"SPN018","d":"CTX (meningitis)","v":"I"},{"s":"SPN018","d":"CTX (non-meningitis)","v":"S"},{"s":"SPN018","d":"CRO (meningitis)","v":"I"},{"s":"SPN018","d":"CRO (non-meningitis)","v":"S"},{"s":"SPN018","d":"FEP (meningitis)","v":"I"},{"s":"SPN018","d":"FEP (non-meningitis)","v":"S"},{"s":"SPN018","d":"MEM","v":"I"},{"s":"SPN018","d":"RIF","v":"S"},{"s":"SPN018","d":"LVX","v":"S"},{"s":"SPN018","d":"MFX","v":"S"},{"s":"SPN018","d":"SXT","v":"R"},{"s":"SPN018","d":"TCY","v":"S"},{"s":"SPN018","d":"CLI","v":"R"},{"s":"SPN018","d":"ERY","v":"R"},{"s":"SPN018","d":"LNZ","v":"S"},{"s":"SPN018","d":"VAN","v":"S"},
      {"s":"SPN006","d":"PEN (oral)","v":"R"},{"s":"SPN006","d":"PEN (meningitis)","v":"R"},{"s":"SPN006","d":"PEN (non-meningitis)","v":"S"},{"s":"SPN006","d":"AMX (non-meningitis)","v":"S"},{"s":"SPN006","d":"CXM (oral)","v":"I"},{"s":"SPN006","d":"CXM (i.v.)","v":"R"},{"s":"SPN006","d":"CTX (meningitis)","v":"S"},{"s":"SPN006","d":"CTX (non-meningitis)","v":"S"},{"s":"SPN006","d":"CRO (meningitis)","v":"S"},{"s":"SPN006","d":"CRO (non-meningitis)","v":"S"},{"s":"SPN006","d":"FEP (meningitis)","v":"S"},{"s":"SPN006","d":"FEP (non-meningitis)","v":"S"},{"s":"SPN006","d":"MEM","v":"S"},{"s":"SPN006","d":"RIF","v":"S"},{"s":"SPN006","d":"LVX","v":"S"},{"s":"SPN006","d":"MFX","v":"S"},{"s":"SPN006","d":"SXT","v":"I"},{"s":"SPN006","d":"TCY","v":"R"},{"s":"SPN006","d":"CLI","v":"R"},{"s":"SPN006","d":"ERY","v":"R"},{"s":"SPN006","d":"LNZ","v":"S"},{"s":"SPN006","d":"VAN","v":"S"}
    ],
    "genes": [
      {"s":"SPI001","g":"erm(B)","st":"Carrying"},{"s":"SPI001","g":"folA_I100L","st":"Carrying"},{"s":"SPI001","g":"folP_aa_insert_57-70","st":"Carrying"},
      {"s":"SPN007","g":"erm(B)","st":"Carrying"},{"s":"SPN007","g":"folA_I100L","st":"Carrying"},{"s":"SPN007","g":"folP_aa_insert_57-70","st":"Carrying"},
      {"s":"SPI009","g":"erm(B)","st":"Carrying"},
      {"s":"SPI010","g":"erm(B)","st":"Carrying"},
      {"s":"SPN015","g":"erm(B)","st":"Carrying"},{"s":"SPN015","g":"folA_I100L","st":"Carrying"},{"s":"SPN015","g":"folP_aa_insert_57-70","st":"Carrying"},
      {"s":"SPN012","g":"erm(B)","st":"Carrying"},{"s":"SPN012","g":"folA_I100L","st":"Carrying"},
      {"s":"SPN021","g":"erm(B)","st":"Carrying"},{"s":"SPN021","g":"msr(D)","st":"Carrying"},{"s":"SPN021","g":"mef(A)_10","st":"Carrying"},{"s":"SPN021","g":"folA_I100L","st":"Carrying"},{"s":"SPN021","g":"folP_aa_insert_57-70","st":"Carrying"},
      {"s":"SPN013","g":"erm(B)","st":"Carrying"},{"s":"SPN013","g":"msr(D)","st":"Carrying"},{"s":"SPN013","g":"mef(A)_10","st":"Carrying"},{"s":"SPN013","g":"folA_I100L","st":"Carrying"},{"s":"SPN013","g":"folP_aa_insert_57-70","st":"Carrying"},
      {"s":"SPI002","g":"erm(B)","st":"Carrying"},{"s":"SPI002","g":"msr(D)","st":"Carrying"},{"s":"SPI002","g":"mef(A)_10","st":"Carrying"},{"s":"SPI002","g":"folA_I100L","st":"Carrying"},{"s":"SPI002","g":"folP_aa_insert_57-70","st":"Carrying"},
      {"s":"SPN001","g":"erm(B)","st":"Carrying"},{"s":"SPN001","g":"msr(D)","st":"Carrying"},{"s":"SPN001","g":"mef(A)_10","st":"Carrying"},{"s":"SPN001","g":"folA_I100L","st":"Carrying"},{"s":"SPN001","g":"folP_aa_insert_57-70","st":"Carrying"},
      {"s":"SPN014","g":"erm(B)","st":"Carrying"},{"s":"SPN014","g":"msr(D)","st":"Carrying"},{"s":"SPN014","g":"mef(A)_10","st":"Carrying"},{"s":"SPN014","g":"folA_I100L","st":"Carrying"},{"s":"SPN014","g":"folP_aa_insert_57-70","st":"Carrying"},
      {"s":"SPN005","g":"erm(B)","st":"Carrying"},{"s":"SPN005","g":"msr(D)","st":"Carrying"},{"s":"SPN005","g":"mef(A)_10","st":"Carrying"},{"s":"SPN005","g":"folA_I100L","st":"Carrying"},{"s":"SPN005","g":"folP_aa_insert_57-70","st":"Carrying"},
      {"s":"SPN019","g":"erm(B)","st":"Carrying"},{"s":"SPN019","g":"msr(D)","st":"Carrying"},{"s":"SPN019","g":"mef(A)_10","st":"Carrying"},{"s":"SPN019","g":"folA_I100L","st":"Carrying"},{"s":"SPN019","g":"folP_aa_insert_57-70","st":"Carrying"},
      {"s":"SPN010","g":"erm(B)","st":"Carrying"},{"s":"SPN010","g":"msr(D)","st":"Carrying"},{"s":"SPN010","g":"mef(A)_10","st":"Carrying"},{"s":"SPN010","g":"folA_I100L","st":"Carrying"},{"s":"SPN010","g":"folP_aa_insert_57-70","st":"Carrying"},
      {"s":"SPN023","g":"erm(B)","st":"Carrying"},{"s":"SPN023","g":"msr(D)","st":"Carrying"},{"s":"SPN023","g":"mef(A)_10","st":"Carrying"},{"s":"SPN023","g":"folA_I100L","st":"Carrying"},{"s":"SPN023","g":"folP_aa_insert_57-70","st":"Carrying"},
      {"s":"SPN004","g":"erm(B)","st":"Carrying"},{"s":"SPN004","g":"msr(D)","st":"Carrying"},{"s":"SPN004","g":"mef(A)_10","st":"Carrying"},{"s":"SPN004","g":"folA_I100L","st":"Carrying"},{"s":"SPN004","g":"folP_aa_insert_57-70","st":"Carrying"},
      {"s":"SPN009","g":"erm(B)","st":"Carrying"},{"s":"SPN009","g":"msr(D)","st":"Carrying"},{"s":"SPN009","g":"mef(A)_10","st":"Carrying"},{"s":"SPN009","g":"folA_I100L","st":"Carrying"},{"s":"SPN009","g":"folP_aa_insert_57-70","st":"Carrying"},
      {"s":"SPI007","g":"erm(B)","st":"Carrying"},{"s":"SPI007","g":"msr(D)","st":"Carrying"},{"s":"SPI007","g":"mef(A)_10","st":"Carrying"},{"s":"SPI007","g":"folA_I100L","st":"Carrying"},{"s":"SPI007","g":"folP_aa_insert_57-70","st":"Carrying"},
      {"s":"SPI011","g":"erm(B)","st":"Carrying"},{"s":"SPI011","g":"mef(E)","st":"Carrying"},{"s":"SPI011","g":"folA_I100L","st":"Carrying"},{"s":"SPI011","g":"folP_aa_insert_57-70","st":"Carrying"},
      {"s":"SPI005","g":"msr(D)","st":"Carrying"},{"s":"SPI005","g":"mef(A)_10","st":"Carrying"},
      {"s":"SPN022","g":"erm(B)","st":"Carrying"},{"s":"SPN022","g":"folP_aa_insert_57-70","st":"Carrying"},
      {"s":"SPN008","g":"erm(B)","st":"Carrying"},{"s":"SPN008","g":"folP_aa_insert_57-70","st":"Carrying"},
      {"s":"SPN002","g":"erm(B)","st":"Carrying"},{"s":"SPN002","g":"folP_aa_insert_57-70","st":"Carrying"},
      {"s":"SPN011","g":"erm(B)","st":"Carrying"},{"s":"SPN011","g":"folP_aa_insert_57-70","st":"Carrying"},
      {"s":"SPI006","g":"erm(B)","st":"Carrying"},{"s":"SPI006","g":"folP_aa_insert_57-70","st":"Carrying"},
      {"s":"SPN020","g":"erm(B)","st":"Carrying"},{"s":"SPN020","g":"folA_I100L","st":"Carrying"},{"s":"SPN020","g":"folP_aa_insert_57-70","st":"Carrying"},
      {"s":"SPN024","g":"erm(B)","st":"Carrying"},{"s":"SPN024","g":"folP_aa_insert_57-70","st":"Carrying"},
      {"s":"SPI004","g":"erm(B)","st":"Carrying"},{"s":"SPI004","g":"folP_aa_insert_57-70","st":"Carrying"},
      {"s":"SPN017","g":"erm(B)","st":"Carrying"},{"s":"SPN017","g":"folA_I100L","st":"Carrying"},{"s":"SPN017","g":"folP_aa_insert_57-70","st":"Carrying"},
      {"s":"SPI012","g":"erm(B)","st":"Carrying"},{"s":"SPI012","g":"folA_I100L","st":"Carrying"},{"s":"SPI012","g":"folP_aa_insert_57-70","st":"Carrying"},
      {"s":"SPN003","g":"erm(B)","st":"Carrying"},{"s":"SPN003","g":"folA_I100L","st":"Carrying"},{"s":"SPN003","g":"folP_aa_insert_57-70","st":"Carrying"},
      {"s":"SPN016","g":"erm(B)","st":"Carrying"},{"s":"SPN016","g":"folP_aa_insert_57-70","st":"Carrying"},
      {"s":"SPI003","g":"erm(B)","st":"Carrying"},{"s":"SPI003","g":"folP_aa_insert_57-70","st":"Carrying"},
      {"s":"SPI008","g":"erm(B)","st":"Carrying"},{"s":"SPI008","g":"cat_Pc194","st":"Carrying"},{"s":"SPI008","g":"folA_I100L","st":"Carrying"},{"s":"SPI008","g":"folP_aa_insert_57-70","st":"Carrying"},
      {"s":"SPN018","g":"erm(B)","st":"Carrying"},{"s":"SPN018","g":"folA_I100L","st":"Carrying"},{"s":"SPN018","g":"folP_aa_insert_57-70","st":"Carrying"},
      {"s":"SPN006","g":"erm(B)","st":"Carrying"},{"s":"SPN006","g":"cat_Pc194","st":"Carrying"},{"s":"SPN006","g":"folP_aa_insert_57-70","st":"Carrying"}
    ],
    "types": [
      {"s":"SPI001","c":"tet(M)","v":"12"},{"s":"SPI001","c":"PBP1a","v":"15"},{"s":"SPI001","c":"PBP2b","v":"12"},{"s":"SPI001","c":"PBP2x","v":"18"},
      {"s":"SPN007","c":"tet(M)","v":"12"},{"s":"SPN007","c":"PBP1a","v":"17"},{"s":"SPN007","c":"PBP2b","v":"new"},{"s":"SPN007","c":"PBP2x","v":"331"},
      {"s":"SPI009","c":"tet(M)","v":"12"},{"s":"SPI009","c":"PBP1a","v":"60"},{"s":"SPI009","c":"PBP2b","v":"16"},{"s":"SPI009","c":"PBP2x","v":"8"},
      {"s":"SPI010","c":"tet(M)","v":"12"},{"s":"SPI010","c":"PBP1a","v":"60"},{"s":"SPI010","c":"PBP2b","v":"16"},{"s":"SPI010","c":"PBP2x","v":"312"},
      {"s":"SPN015","c":"tet(M)","v":"12"},{"s":"SPN015","c":"PBP1a","v":"60"},{"s":"SPN015","c":"PBP2b","v":"16"},{"s":"SPN015","c":"PBP2x","v":"20"},
      {"s":"SPN012","c":"tet(M)","v":"12"},{"s":"SPN012","c":"PBP1a","v":"19"},{"s":"SPN012","c":"PBP2b","v":"1"},{"s":"SPN012","c":"PBP2x","v":"24"},
      {"s":"SPN021","c":"tet(M)","v":"2"},{"s":"SPN021","c":"PBP1a","v":"13"},{"s":"SPN021","c":"PBP2b","v":"new"},{"s":"SPN021","c":"PBP2x","v":"8"},
      {"s":"SPN013","c":"tet(M)","v":"2"},{"s":"SPN013","c":"PBP1a","v":"13"},{"s":"SPN013","c":"PBP2b","v":"11"},{"s":"SPN013","c":"PBP2x","v":"16"},
      {"s":"SPI002","c":"tet(M)","v":"2"},{"s":"SPI002","c":"PBP1a","v":"13"},{"s":"SPI002","c":"PBP2b","v":"11"},{"s":"SPI002","c":"PBP2x","v":"16"},
      {"s":"SPN001","c":"tet(M)","v":"2"},{"s":"SPN001","c":"PBP1a","v":"13"},{"s":"SPN001","c":"PBP2b","v":"11"},{"s":"SPN001","c":"PBP2x","v":"16"},
      {"s":"SPN014","c":"tet(M)","v":"2"},{"s":"SPN014","c":"PBP1a","v":"13"},{"s":"SPN014","c":"PBP2b","v":"11"},{"s":"SPN014","c":"PBP2x","v":"16"},
      {"s":"SPN005","c":"tet(M)","v":"2"},{"s":"SPN005","c":"PBP1a","v":"13"},{"s":"SPN005","c":"PBP2b","v":"11"},{"s":"SPN005","c":"PBP2x","v":"33"},
      {"s":"SPN019","c":"tet(M)","v":"2"},{"s":"SPN019","c":"PBP1a","v":"13"},{"s":"SPN019","c":"PBP2b","v":"11"},{"s":"SPN019","c":"PBP2x","v":"33"},
      {"s":"SPN010","c":"tet(M)","v":"2"},{"s":"SPN010","c":"PBP1a","v":"13"},{"s":"SPN010","c":"PBP2b","v":"11"},{"s":"SPN010","c":"PBP2x","v":"33"},
      {"s":"SPN023","c":"tet(M)","v":"2"},{"s":"SPN023","c":"PBP1a","v":"13"},{"s":"SPN023","c":"PBP2b","v":"11"},{"s":"SPN023","c":"PBP2x","v":"33"},
      {"s":"SPN004","c":"tet(M)","v":"2"},{"s":"SPN004","c":"PBP1a","v":"13"},{"s":"SPN004","c":"PBP2b","v":"11"},{"s":"SPN004","c":"PBP2x","v":"33"},
      {"s":"SPN009","c":"tet(M)","v":"2"},{"s":"SPN009","c":"PBP1a","v":"13"},{"s":"SPN009","c":"PBP2b","v":"11"},{"s":"SPN009","c":"PBP2x","v":"new"},
      {"s":"SPI007","c":"tet(M)","v":"2"},{"s":"SPI007","c":"PBP1a","v":"13"},{"s":"SPI007","c":"PBP2b","v":"11"},{"s":"SPI007","c":"PBP2x","v":"33"},
      {"s":"SPI011","c":"tet(M)","v":"2"},{"s":"SPI011","c":"PBP1a","v":"13"},{"s":"SPI011","c":"PBP2b","v":"261"},{"s":"SPI011","c":"PBP2x","v":"20"},
      {"s":"SPI005","c":"tet(M)","v":"-"},{"s":"SPI005","c":"PBP1a","v":"36"},{"s":"SPI005","c":"PBP2b","v":"34"},{"s":"SPI005","c":"PBP2x","v":"44"},
      {"s":"SPN022","c":"tet(M)","v":"5"},{"s":"SPN022","c":"PBP1a","v":"13"},{"s":"SPN022","c":"PBP2b","v":"276"},{"s":"SPN022","c":"PBP2x","v":"33"},
      {"s":"SPN008","c":"tet(M)","v":"4"},{"s":"SPN008","c":"PBP1a","v":"13"},{"s":"SPN008","c":"PBP2b","v":"115"},{"s":"SPN008","c":"PBP2x","v":"73"},
      {"s":"SPN002","c":"tet(M)","v":"4"},{"s":"SPN002","c":"PBP1a","v":"13"},{"s":"SPN002","c":"PBP2b","v":"115"},{"s":"SPN002","c":"PBP2x","v":"new"},
      {"s":"SPN011","c":"tet(M)","v":"4"},{"s":"SPN011","c":"PBP1a","v":"13"},{"s":"SPN011","c":"PBP2b","v":"115"},{"s":"SPN011","c":"PBP2x","v":"73"},
      {"s":"SPI006","c":"tet(M)","v":"4"},{"s":"SPI006","c":"PBP1a","v":"13"},{"s":"SPI006","c":"PBP2b","v":"115"},{"s":"SPI006","c":"PBP2x","v":"73"},
      {"s":"SPN020","c":"tet(M)","v":"1"},{"s":"SPN020","c":"PBP1a","v":"new"},{"s":"SPN020","c":"PBP2b","v":"32"},{"s":"SPN020","c":"PBP2x","v":"8"},
      {"s":"SPN024","c":"tet(M)","v":"13"},{"s":"SPN024","c":"PBP1a","v":"2"},{"s":"SPN024","c":"PBP2b","v":"2"},{"s":"SPN024","c":"PBP2x","v":"2"},
      {"s":"SPI004","c":"tet(M)","v":"12"},{"s":"SPI004","c":"PBP1a","v":"13"},{"s":"SPI004","c":"PBP2b","v":"16"},{"s":"SPI004","c":"PBP2x","v":"47"},
      {"s":"SPN017","c":"tet(M)","v":"12"},{"s":"SPN017","c":"PBP1a","v":"226"},{"s":"SPN017","c":"PBP2b","v":"new"},{"s":"SPN017","c":"PBP2x","v":"new"},
      {"s":"SPI012","c":"tet(M)","v":"12"},{"s":"SPI012","c":"PBP1a","v":"new"},{"s":"SPI012","c":"PBP2b","v":"new"},{"s":"SPI012","c":"PBP2x","v":"497"},
      {"s":"SPN003","c":"tet(M)","v":"12"},{"s":"SPN003","c":"PBP1a","v":"226"},{"s":"SPN003","c":"PBP2b","v":"new"},{"s":"SPN003","c":"PBP2x","v":"497"},
      {"s":"SPN016","c":"tet(M)","v":"4"},{"s":"SPN016","c":"PBP1a","v":"34"},{"s":"SPN016","c":"PBP2b","v":"32"},{"s":"SPN016","c":"PBP2x","v":"43"},
      {"s":"SPI003","c":"tet(M)","v":"13"},{"s":"SPI003","c":"PBP1a","v":"34"},{"s":"SPI003","c":"PBP2b","v":"32"},{"s":"SPI003","c":"PBP2x","v":"43"},
      {"s":"SPI008","c":"tet(M)","v":"12"},{"s":"SPI008","c":"PBP1a","v":"34"},{"s":"SPI008","c":"PBP2b","v":"11"},{"s":"SPI008","c":"PBP2x","v":"257"},
      {"s":"SPN018","c":"tet(M)","v":"5"},{"s":"SPN018","c":"PBP1a","v":"34"},{"s":"SPN018","c":"PBP2b","v":"32"},{"s":"SPN018","c":"PBP2x","v":"43"},
      {"s":"SPN006","c":"tet(M)","v":"5"},{"s":"SPN006","c":"PBP1a","v":"34"},{"s":"SPN006","c":"PBP2b","v":"32"},{"s":"SPN006","c":"PBP2x","v":"43"}
    ]
  },
  "hconcat": [
    {
      "width": 847,
      "height": 851,
      "layer": [
        {
          "data": {"name": "strains"},
          "mark": {"type": "rect"},
          "encoding": {
            "x": {"datum": 0, "type": "quantitative", "scale": {"domain": [0, 0.289], "nice": false, "zero": false}, "axis": null},
            "x2": {"datum": 0.289},
            "y": {"field": "s", "type": "nominal", "scale": {"domain": ["SPI001","SPN007","SPI009","SPI010","SPN015","SPN012","SPN021","SPN013","SPI002","SPN001","SPN014","SPN005","SPN019","SPN010","SPN023","SPN004","SPN009","SPI007","SPI011","SPI005","SPN022","SPN008","SPN002","SPN011","SPI006","SPN020","SPN024","SPI004","SPN017","SPI012","SPN003","SPN016","SPI003","SPI008","SPN018","SPN006"], "paddingInner": 0, "paddingOuter": 0}, "axis": null},
            "fill": {
              "field": "sero", "type": "nominal",
              "scale": {"domain": ["19A","19F","23A","23F","6A","6B","6D","6E","7A","15A","15C","14","34"], "range": ["#0b5394","#6fa8dc","#38761d","#93c47d","#bf9000","#f1c232","#f6b26b","#f9cb9c","#f4cccc","#674ea7","#8e7cc3","#a64d79","#999999"]},
              "legend": {"title": "Serotypes (branch color)", "orient": "none", "legendX": -240, "legendY": -4, "direction": "vertical", "symbolType": "square", "symbolSize": 729, "symbolStrokeColor": "#555555", "symbolStrokeWidth": 1, "symbolOpacity": 1, "labelFont": "Liberation Serif", "labelFontSize": 19, "labelColor": "#111111", "labelOffset": 14, "labelLimit": 400, "rowPadding": 9, "titleFont": "Liberation Serif", "titleFontSize": 20, "titleFontWeight": "bold", "titleColor": "#111111", "titlePadding": 16, "titleLimit": 400, "padding": 7, "strokeColor": "#e6e6e6", "fillColor": "#ffffff"}
            }
          }
        },
        {
          "layer": [
            {
              "data": {"values": [{}]},
              "mark": {"type": "rect", "fill": {"gradient": "linear", "x1": 0, "y1": 0, "x2": 1, "y2": 0, "stops": [{"offset": 0, "color": "rgba(255,255,255,0)"}, {"offset": 0.94, "color": "#ffffff"}, {"offset": 1, "color": "#ffffff"}]}},
              "encoding": {
                "x": {"datum": 0, "type": "quantitative"},
                "x2": {"datum": 0.289},
                "y": {"datum": 0.5, "type": "quantitative", "scale": {"domain": [0.5, 36.5], "reverse": true, "nice": false, "zero": false}, "axis": null},
                "y2": {"datum": 36.5}
              }
            },
            {
              "data": {"name": "tree"},
              "transform": [{"filter": "isValid(datum.s)"}],
              "mark": {"type": "rule", "color": "#c4c4c4", "strokeWidth": 1, "strokeDash": [3, 3], "opacity": 0.8},
              "encoding": {
                "x": {"field": "x1", "type": "quantitative"},
                "x2": {"datum": 0.268},
                "y": {"field": "y0", "type": "quantitative"}
              }
            },
            {
              "data": {"name": "tree"},
              "mark": {"type": "rule", "color": "#000000", "strokeWidth": 2.6, "strokeCap": "square"},
              "encoding": {
                "x": {"field": "x0", "type": "quantitative"},
                "x2": {"field": "x1"},
                "y": {"field": "y0", "type": "quantitative"},
                "y2": {"field": "y1"}
              }
            },
            {
              "data": {"values": [{}]},
              "mark": {"type": "rule", "color": "#666666", "strokeWidth": 1.3},
              "encoding": {
                "x": {"datum": -0.0321, "type": "quantitative"},
                "x2": {"datum": 0.0679},
                "y": {"datum": -0.73, "type": "quantitative"}
              }
            },
            {
              "data": {"name": "scalebar"},
              "mark": {"type": "rule", "color": "#666666", "strokeWidth": 1.3},
              "encoding": {
                "x": {"field": "x", "type": "quantitative"},
                "y": {"datum": -0.88, "type": "quantitative"},
                "y2": {"datum": -0.58}
              }
            },
            {
              "data": {"values": [{}]},
              "mark": {"type": "text", "text": "Tree scale: 0.1", "align": "right", "baseline": "middle", "font": "DejaVu Sans", "fontWeight": "bold", "fontSize": 13.5, "color": "#555555"},
              "encoding": {
                "x": {"datum": -0.0345, "type": "quantitative"},
                "y": {"datum": -0.73, "type": "quantitative"}
              }
            }
          ]
        },
        {
          "data": {"name": "strains"},
          "mark": {"type": "text", "align": "left", "baseline": "middle", "font": "Liberation Serif", "fontWeight": "bold", "fontSize": 15},
          "encoding": {
            "x": {"datum": 0.27, "type": "quantitative"},
            "y": {"field": "s", "type": "nominal", "scale": {"domain": ["SPI001","SPN007","SPI009","SPI010","SPN015","SPN012","SPN021","SPN013","SPI002","SPN001","SPN014","SPN005","SPN019","SPN010","SPN023","SPN004","SPN009","SPI007","SPI011","SPI005","SPN022","SPN008","SPN002","SPN011","SPI006","SPN020","SPN024","SPI004","SPN017","SPI012","SPN003","SPN016","SPI003","SPI008","SPN018","SPN006"], "paddingInner": 0, "paddingOuter": 0}, "axis": null},
            "text": {"field": "s"},
            "color": {
              "field": "t", "type": "nominal",
              "scale": {"domain": ["Invasive isolates (SPI)", "Non-invasive isolates (SPN)"], "range": ["#cc0000", "#0b5394"]},
              "legend": {"title": "Strains text color", "orient": "none", "legendX": 281, "legendY": 856, "direction": "horizontal", "symbolType": "square", "symbolSize": 729, "symbolStrokeColor": "#555555", "symbolStrokeWidth": 1, "symbolOpacity": 1, "labelFont": "Liberation Serif", "labelFontSize": 19, "labelColor": "#111111", "labelOffset": 16, "labelLimit": 400, "columnPadding": 43, "titleFont": "Liberation Serif", "titleFontSize": 19, "titleFontWeight": "bold", "titleColor": "#111111", "titlePadding": 16, "titleLimit": 400, "padding": 6, "strokeColor": "#e6e6e6", "fillColor": "#ffffff"}
            }
          }
        }
      ],
      "resolve": {"scale": {"y": "independent"}}
    },
    {
      "width": 418,
      "height": 851,
      "data": {"name": "ast"},
      "mark": {"type": "rect", "stroke": "#ffffff", "strokeWidth": 0.5, "strokeOpacity": 0.25},
      "encoding": {
        "x": {
          "field": "d", "type": "nominal",
          "scale": {"domain": ["PEN (oral)","PEN (meningitis)","PEN (non-meningitis)","AMX (non-meningitis)","CXM (oral)","CXM (i.v.)","CTX (meningitis)","CTX (non-meningitis)","CRO (meningitis)","CRO (non-meningitis)","FEP (meningitis)","FEP (non-meningitis)","MEM","RIF","LVX","MFX","SXT","TCY","CLI","ERY","LNZ","VAN"], "paddingInner": 0, "paddingOuter": 0},
          "axis": {"orient": "top", "title": null, "labelAngle": -90, "labelAlign": "left", "labelBaseline": "middle", "labelFont": "Liberation Serif", "labelFontSize": 15, "labelFontWeight": "bold", "labelColor": "#000000", "labelPadding": 2, "labelLimit": 400, "domain": false, "ticks": false, "grid": false}
        },
        "y": {"field": "s", "type": "nominal", "scale": {"domain": ["SPI001","SPN007","SPI009","SPI010","SPN015","SPN012","SPN021","SPN013","SPI002","SPN001","SPN014","SPN005","SPN019","SPN010","SPN023","SPN004","SPN009","SPI007","SPI011","SPI005","SPN022","SPN008","SPN002","SPN011","SPI006","SPN020","SPN024","SPI004","SPN017","SPI012","SPN003","SPN016","SPI003","SPI008","SPN018","SPN006"], "paddingInner": 0, "paddingOuter": 0}, "axis": null},
        "color": {
          "field": "v", "type": "nominal",
          "scale": {"domain": ["R", "I", "S"], "range": ["#cc0000", "#f1c232", "#6aa84f"]},
          "legend": {"title": "Antimicrobial susceptibility", "orient": "none", "legendX": 99, "legendY": 856, "direction": "horizontal", "symbolType": "square", "symbolSize": 784, "symbolStrokeColor": "#555555", "symbolStrokeWidth": 1, "symbolOpacity": 1, "labelFont": "Liberation Serif", "labelFontSize": 19, "labelColor": "#111111", "labelOffset": 9, "columnPadding": 42, "titleFont": "Liberation Serif", "titleFontSize": 19, "titleFontWeight": "bold", "titleColor": "#111111", "titlePadding": 16, "titleLimit": 400, "padding": 6, "strokeColor": "#e6e6e6", "fillColor": "#ffffff"}
        }
      }
    },
    {
      "width": 30,
      "height": 851,
      "data": {"values": [{}]},
      "mark": {"type": "point", "opacity": 0},
      "encoding": {}
    },
    {
      "width": 174,
      "height": 851,
      "data": {"name": "genes"},
      "mark": {"type": "point", "filled": true, "size": 356, "opacity": 1},
      "encoding": {
        "x": {
          "field": "g", "type": "nominal",
          "scale": {"type": "point", "domain": ["erm(B)","msr(D)","mef(A)_10","mef(E)","cat_Pc194","folA_I100L","folP_aa_insert_57-70"], "padding": 0},
          "axis": {"orient": "top", "title": null, "labelAngle": -90, "labelAlign": "left", "labelBaseline": "middle", "labelFont": "Liberation Serif", "labelFontSize": 16, "labelFontWeight": "normal", "labelColor": "#000000", "labelPadding": 3, "labelLimit": 400, "domain": false, "ticks": false, "grid": true, "gridColor": "#dddddd", "gridWidth": 1}
        },
        "y": {
          "field": "s", "type": "nominal",
          "scale": {"type": "point", "domain": ["SPI001","SPN007","SPI009","SPI010","SPN015","SPN012","SPN021","SPN013","SPI002","SPN001","SPN014","SPN005","SPN019","SPN010","SPN023","SPN004","SPN009","SPI007","SPI011","SPI005","SPN022","SPN008","SPN002","SPN011","SPI006","SPN020","SPN024","SPI004","SPN017","SPI012","SPN003","SPN016","SPI003","SPI008","SPN018","SPN006"], "padding": 0.5},
          "axis": {"title": null, "labels": false, "ticks": false, "domain": false, "grid": true, "gridColor": "#dddddd", "gridWidth": 1}
        },
        "color": {
          "field": "st", "type": "nominal",
          "scale": {"domain": ["Carrying"], "range": ["#6a2ea0"]},
          "legend": {"title": "Antimicrobial genes", "orient": "none", "legendX": -4, "legendY": 850, "direction": "vertical", "symbolType": "circle", "symbolSize": 616, "symbolStrokeColor": "#222222", "symbolStrokeWidth": 1, "symbolOpacity": 1, "labelFont": "Liberation Serif", "labelFontSize": 19, "labelColor": "#111111", "labelOffset": 14, "titleFont": "Liberation Serif", "titleFontSize": 19, "titleFontWeight": "bold", "titleColor": "#111111", "titlePadding": 16, "titleLimit": 400, "padding": 6, "strokeColor": "#e6e6e6", "fillColor": "#ffffff"}
        }
      }
    },
    {
      "width": 30,
      "height": 851,
      "data": {"values": [{}]},
      "mark": {"type": "point", "opacity": 0},
      "encoding": {}
    },
    {
      "width": 150,
      "height": 851,
      "data": {"name": "types"},
      "mark": {"type": "text", "align": "left", "baseline": "middle", "dx": -12, "font": "Liberation Serif", "fontSize": 16, "color": "#1a1a1a"},
      "encoding": {
        "x": {
          "field": "c", "type": "nominal",
          "scale": {"type": "point", "domain": ["tet(M)", "PBP1a", "PBP2b", "PBP2x"], "padding": 0.584},
          "axis": {"orient": "top", "title": null, "labelAngle": -90, "labelAlign": "left", "labelBaseline": "middle", "labelFont": "Liberation Serif", "labelFontSize": {"condition": {"test": "datum.value === 'tet(M)'", "value": 20}, "value": 16}, "labelFontWeight": "bold", "labelColor": "#000000", "labelPadding": 3, "labelLimit": 400, "domain": false, "ticks": false, "grid": false}
        },
        "y": {
          "field": "s", "type": "nominal",
          "scale": {"type": "point", "domain": ["SPI001","SPN007","SPI009","SPI010","SPN015","SPN012","SPN021","SPN013","SPI002","SPN001","SPN014","SPN005","SPN019","SPN010","SPN023","SPN004","SPN009","SPI007","SPI011","SPI005","SPN022","SPN008","SPN002","SPN011","SPI006","SPN020","SPN024","SPI004","SPN017","SPI012","SPN003","SPN016","SPI003","SPI008","SPN018","SPN006"], "padding": 0.5},
          "axis": null
        },
        "text": {"field": "v"}
      }
    }
  ],
  "spacing": 0,
  "bounds": "flush",
  "resolve": {"scale": {"x": "independent", "y": "independent", "color": "independent", "fill": "independent"}, "legend": {"color": "independent", "fill": "independent"}},
  "config": {
    "view": {"stroke": null},
    "font": "Liberation Serif",
    "axis": {"domain": false, "ticks": false}
  }
}
